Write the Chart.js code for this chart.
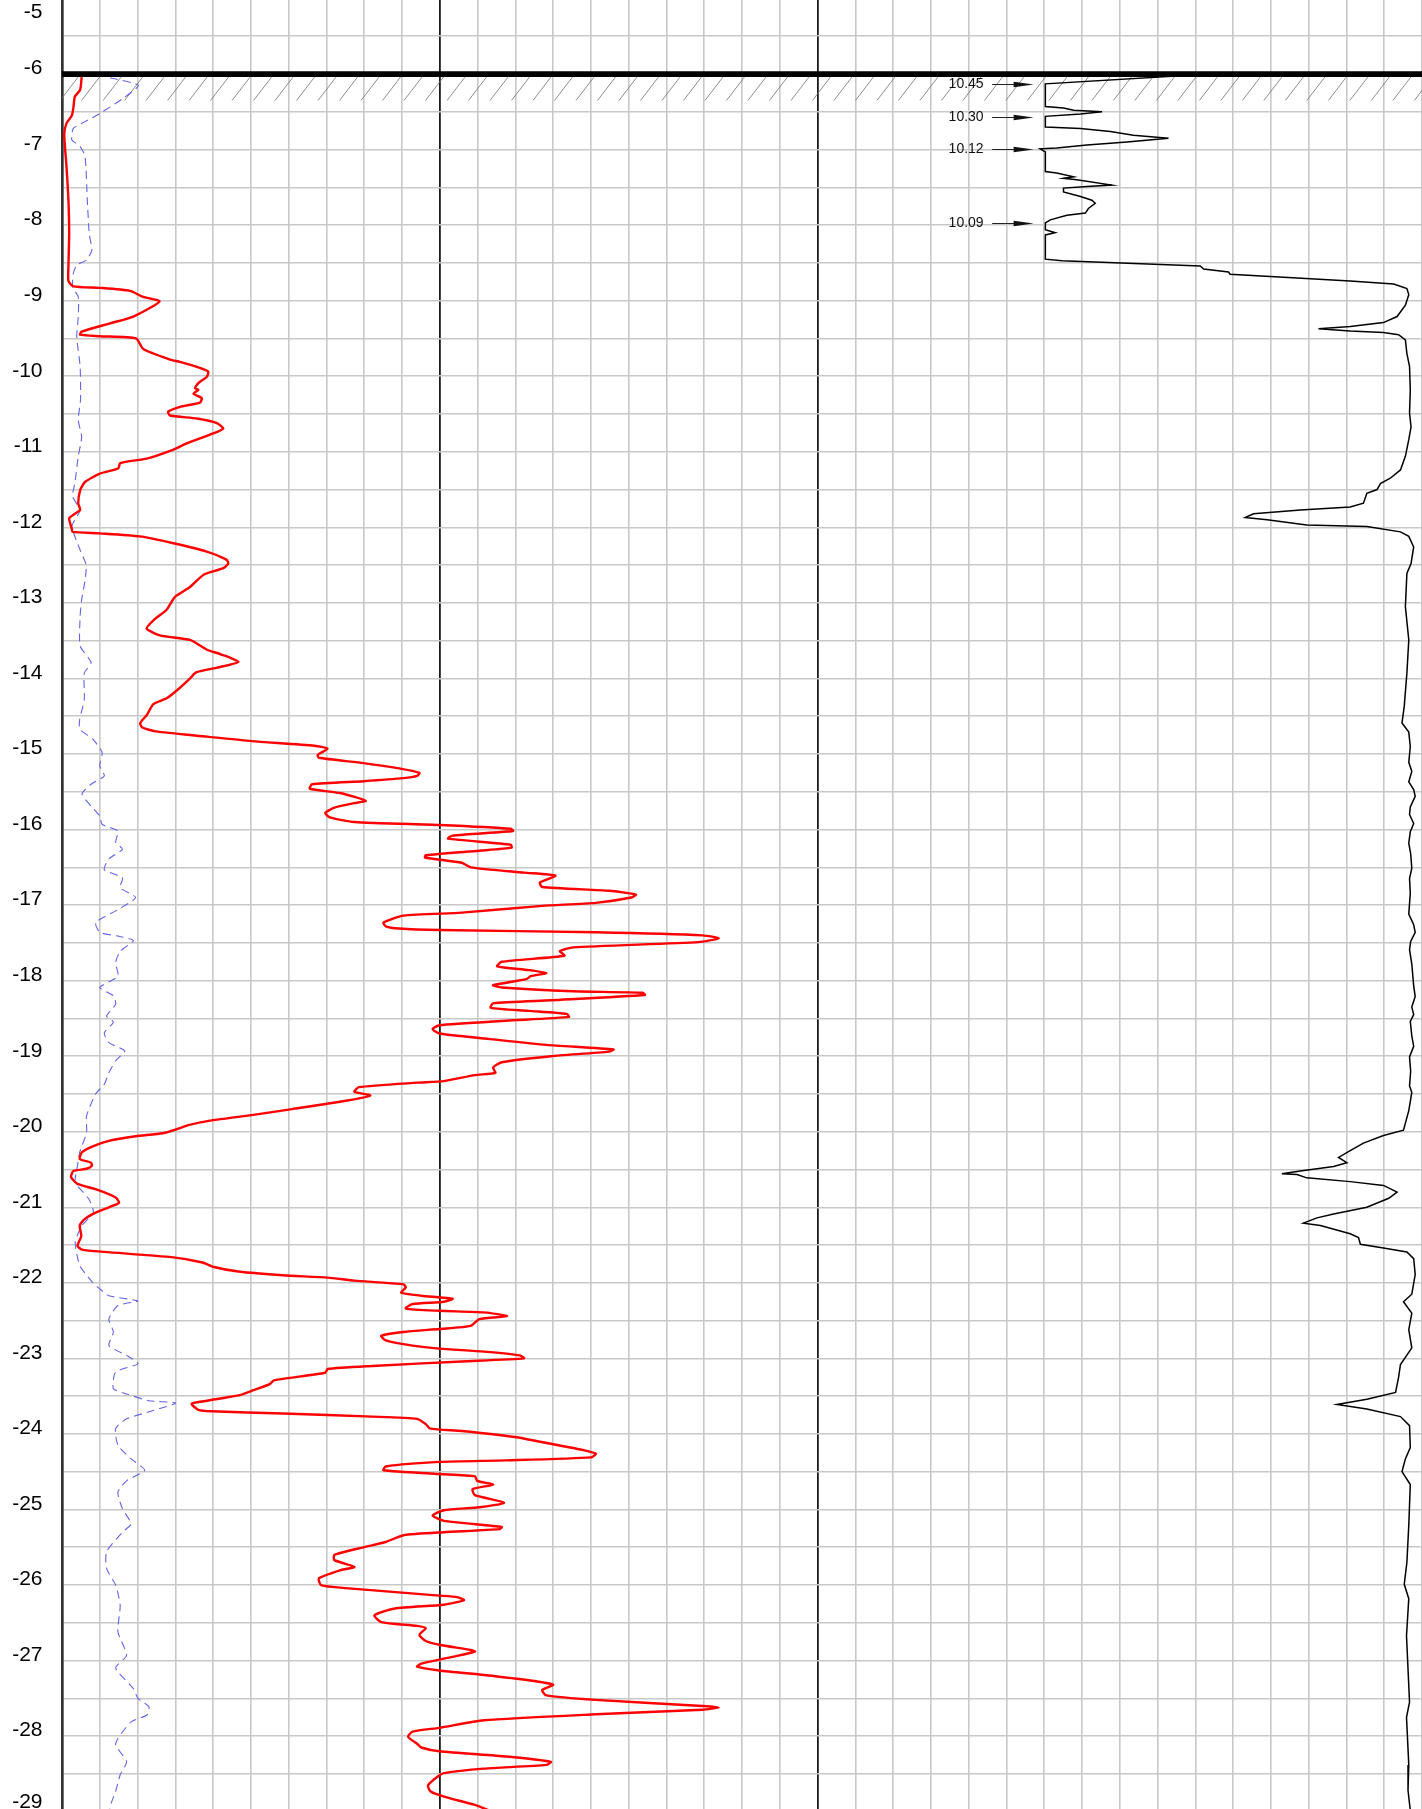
<!DOCTYPE html>
<html>
<head>
<meta charset="utf-8">
<script src="https://cdn.jsdelivr.net/npm/chart.js@4.4.0/dist/chart.umd.min.js"></script>
<style>
html,body{margin:0;padding:0;background:#fff;overflow:hidden}
canvas{display:block}
</style>
</head>
<body>
<canvas id="c" width="1422" height="1809"></canvas>
<script>
// ---------- data ----------
const depthTicks = [-5,-6,-7,-8,-9,-10,-11,-12,-13,-14,-15,-16,-17,-18,-19,-20,-21,-22,-23,-24,-25,-26,-27,-28,-29];
const groundLevel = -6.0;

// red curve (cone resistance) : value in grid units vs depth
const redX = [0.52,0.48,0.34,0.30,0.26,0.12,0.06,0.12,0.17,0.19,0.17,0.17,0.30,1.0,1.80,2.15,2.58,1.89,1.27,0.52,0.48,1.0,1.96,2.15,2.86,3.12,3.65,3.87,3.83,3.61,3.52,3.61,3.48,3.70,3.65,3.17,2.81,2.86,3.57,4.10,4.27,4.14,3.30,2.90,2.24,1.54,1.49,1.0,0.61,0.48,0.43,0.48,0.34,0.19,0.26,0.28,1.0,2.06,2.95,3.83,4.36,4.40,4.27,3.74,3.39,2.99,2.77,2.42,2.24,2.59,3.39,3.84,4.20,4.67,4.08,3.55,3.37,3.13,2.78,2.42,2.25,2.07,2.13,2.48,3.84,5.02,6.68,7.03,6.77,6.80,7.98,8.92,9.46,9.40,9.04,7.98,6.62,6.56,7.39,8.04,7.74,7.21,6.97,7.09,7.74,9.99,11.88,11.94,10.34,10.22,11.88,11.90,11.05,9.63,9.61,10.58,10.82,12.23,13.06,12.65,12.71,14.48,15.19,15.07,14.13,12.71,10.58,9.04,8.51,8.57,8.92,9.99,14.13,16.96,17.38,16.84,13.53,13.18,13.30,11.64,11.52,12.35,12.82,12.41,12.29,11.41,11.64,13.53,15.37,15.43,12.94,11.41,11.35,12.35,13.36,13.42,11.76,9.99,9.81,9.99,11.29,12.82,14.60,14.48,12.94,11.64,11.41,11.47,10.93,10.11,9.40,7.86,7.74,8.16,7.51,6.09,5.02,3.96,3.37,3.01,2.66,1.95,1.24,0.83,0.53,0.47,0.77,0.79,0.65,0.30,0.24,0.41,0.89,1.42,1.51,1.24,0.89,0.59,0.47,0.51,0.41,0.53,1.12,2.90,3.72,4.02,4.67,5.85,7.03,7.74,9.04,9.10,8.98,9.51,10.34,10.11,9.28,9.10,9.99,11.17,11.78,11.05,10.82,9.99,9.04,8.45,8.57,9.28,9.99,11.17,12.12,12.23,10.58,8.22,7.03,6.97,5.61,5.50,5.02,4.67,3.84,3.43,3.61,3.96,5.85,8.22,9.40,9.63,9.75,10.58,11.99,12.94,13.77,14.13,14.01,11.76,9.99,8.57,8.51,9.99,10.93,10.99,11.41,10.87,10.93,11.70,11.05,10.11,9.81,10.11,11.64,11.58,10.11,9.04,8.57,7.98,7.21,7.21,7.74,7.39,6.80,6.86,7.51,9.99,10.46,10.64,10.11,8.81,8.27,8.45,9.40,9.63,9.46,9.63,9.99,10.82,10.93,10.34,9.51,9.40,9.99,11.17,12.35,13.00,12.71,12.82,14.13,16.96,17.38,16.96,14.13,11.17,9.99,9.28,9.16,9.40,9.51,9.99,11.76,12.94,12.82,11.17,10.11,9.93,9.69,9.75,10.11,10.93,11.29];
const redDepth = [-6.04,-6.21,-6.30,-6.45,-6.55,-6.65,-6.80,-7.23,-7.67,-8.11,-8.55,-8.74,-8.81,-8.83,-8.87,-8.95,-9.01,-9.21,-9.30,-9.41,-9.45,-9.47,-9.50,-9.64,-9.78,-9.81,-9.89,-9.94,-10.01,-10.09,-10.16,-10.18,-10.23,-10.29,-10.35,-10.40,-10.47,-10.52,-10.56,-10.62,-10.69,-10.73,-10.89,-10.98,-11.09,-11.15,-11.22,-11.29,-11.40,-11.51,-11.68,-11.77,-11.82,-11.88,-12.02,-12.06,-12.08,-12.12,-12.21,-12.32,-12.43,-12.48,-12.54,-12.63,-12.79,-12.92,-13.09,-13.23,-13.34,-13.43,-13.49,-13.62,-13.68,-13.78,-13.86,-13.92,-14.01,-14.12,-14.26,-14.34,-14.48,-14.59,-14.65,-14.70,-14.77,-14.83,-14.89,-14.93,-15.01,-15.05,-15.12,-15.19,-15.25,-15.29,-15.32,-15.36,-15.40,-15.46,-15.52,-15.62,-15.65,-15.71,-15.78,-15.84,-15.90,-15.94,-15.99,-16.02,-16.08,-16.12,-16.20,-16.24,-16.28,-16.34,-16.37,-16.44,-16.50,-16.57,-16.61,-16.70,-16.76,-16.81,-16.86,-16.90,-16.97,-17.01,-17.10,-17.14,-17.23,-17.28,-17.31,-17.33,-17.36,-17.40,-17.44,-17.49,-17.56,-17.61,-17.67,-17.75,-17.81,-17.86,-17.90,-17.94,-17.98,-18.06,-18.09,-18.14,-18.16,-18.19,-18.26,-18.30,-18.36,-18.40,-18.44,-18.48,-18.53,-18.59,-18.64,-18.70,-18.77,-18.85,-18.91,-18.94,-19.00,-19.08,-19.15,-19.22,-19.25,-19.33,-19.35,-19.41,-19.47,-19.52,-19.59,-19.70,-19.78,-19.85,-19.91,-19.97,-20.02,-20.06,-20.12,-20.19,-20.27,-20.36,-20.41,-20.45,-20.49,-20.52,-20.60,-20.69,-20.76,-20.87,-20.94,-21.00,-21.07,-21.16,-21.24,-21.38,-21.51,-21.56,-21.59,-21.66,-21.73,-21.79,-21.85,-21.90,-21.93,-21.97,-22.02,-22.06,-22.13,-22.17,-22.21,-22.25,-22.28,-22.34,-22.37,-22.39,-22.44,-22.48,-22.57,-22.61,-22.65,-22.70,-22.76,-22.83,-22.87,-22.91,-22.96,-23.00,-23.04,-23.10,-23.14,-23.19,-23.29,-23.34,-23.43,-23.49,-23.56,-23.60,-23.68,-23.70,-23.73,-23.77,-23.80,-23.87,-23.93,-23.96,-24.04,-24.13,-24.21,-24.26,-24.31,-24.35,-24.37,-24.43,-24.48,-24.53,-24.56,-24.62,-24.67,-24.73,-24.81,-24.91,-24.97,-25.01,-25.08,-25.15,-25.23,-25.26,-25.30,-25.34,-25.43,-25.50,-25.60,-25.67,-25.76,-25.80,-25.91,-26.00,-26.04,-26.14,-26.16,-26.20,-26.26,-26.31,-26.40,-26.49,-26.54,-26.57,-26.66,-26.74,-26.79,-26.86,-26.88,-26.95,-27.04,-27.08,-27.13,-27.19,-27.26,-27.32,-27.39,-27.46,-27.52,-27.60,-27.62,-27.65,-27.71,-27.79,-27.89,-27.94,-28.01,-28.10,-28.15,-28.20,-28.27,-28.34,-28.38,-28.43,-28.49,-28.54,-28.65,-28.73,-28.80,-28.91,-28.98];

// blue dashed curve (friction) : value in grid units vs depth
const blueX = [1.27,2.02,1.62,1.01,0.61,0.30,0.26,0.48,0.61,0.67,0.72,0.79,0.65,0.39,0.30,0.28,0.43,0.43,0.39,0.48,0.49,0.43,0.52,0.43,0.34,0.28,0.48,0.39,0.26,0.48,0.64,0.61,0.52,0.48,0.48,0.77,0.59,0.59,0.47,0.47,0.83,1.06,1.00,1.12,0.77,0.53,0.77,1.00,1.06,1.48,1.42,1.60,1.24,1.12,1.60,1.54,1.95,1.48,0.89,1.00,1.48,1.89,1.54,1.42,1.48,1.00,1.36,1.42,1.18,1.36,1.12,1.24,1.66,1.42,1.24,1.12,0.89,0.65,0.65,0.47,0.41,0.35,0.71,0.83,0.53,0.35,0.47,0.77,1.00,1.24,2.01,1.48,1.24,1.36,1.24,1.71,2.01,1.42,1.36,1.71,2.30,3.01,2.42,1.71,1.42,1.48,1.83,2.19,1.71,1.48,1.60,1.83,1.60,1.18,1.18,1.42,1.54,1.48,1.71,1.42,1.89,2.01,2.30,2.25,1.83,1.48,1.42,1.71,1.54,1.42,1.30,1.25];
const blueDepth = [-6.05,-6.15,-6.32,-6.52,-6.63,-6.72,-6.87,-6.96,-7.09,-7.67,-8.11,-8.33,-8.46,-8.53,-8.64,-8.82,-8.95,-9.21,-9.48,-9.87,-10.31,-10.58,-10.80,-11.06,-11.42,-11.59,-11.77,-11.86,-11.99,-12.30,-12.50,-12.70,-12.96,-13.18,-13.57,-13.79,-13.93,-14.28,-14.54,-14.67,-14.81,-14.98,-15.16,-15.29,-15.40,-15.53,-15.69,-15.82,-15.93,-16.02,-16.17,-16.26,-16.39,-16.53,-16.64,-16.77,-16.90,-17.06,-17.23,-17.36,-17.41,-17.47,-17.61,-17.76,-17.94,-18.09,-18.20,-18.31,-18.47,-18.55,-18.69,-18.82,-18.93,-19.06,-19.22,-19.37,-19.50,-19.79,-20.01,-20.27,-20.45,-20.67,-20.89,-21.07,-21.24,-21.46,-21.77,-21.97,-22.08,-22.17,-22.24,-22.30,-22.48,-22.65,-22.83,-22.96,-23.07,-23.18,-23.40,-23.47,-23.56,-23.59,-23.69,-23.80,-23.93,-24.15,-24.33,-24.48,-24.62,-24.77,-24.99,-25.19,-25.30,-25.56,-25.78,-26.00,-26.27,-26.62,-26.93,-27.10,-27.37,-27.50,-27.61,-27.72,-27.81,-28.03,-28.12,-28.34,-28.51,-28.73,-28.89,-29.00];

// black curve (right track) : value in grid units vs depth
const blackX = [30.05,26.03,26.03,26.51,26.78,27.53,26.96,26.03,26.03,26.96,27.75,28.36,29.29,28.19,27.13,26.33,25.89,26.03,26.03,26.33,26.78,26.51,26.86,27.79,27.13,26.51,26.51,26.96,27.26,27.35,27.17,27.09,26.60,26.16,26.03,26.03,26.29,26.03,26.03,26.47,30.13,30.22,30.88,30.92,32.34,34.10,35.25,35.60,35.65,35.56,35.34,34.98,34.10,33.26,34.10,34.98,35.38,35.56,35.60,35.67,35.69,35.67,35.71,35.65,35.56,35.43,35.16,34.90,34.81,34.54,34.45,34.10,32.78,31.54,31.32,31.90,32.95,34.54,35.43,35.65,35.78,35.71,35.60,35.56,35.65,35.60,35.53,35.47,35.65,35.69,35.65,35.73,35.65,35.78,35.82,35.69,35.67,35.78,35.69,35.65,35.70,35.73,35.67,35.69,35.65,35.78,35.82,35.70,35.67,35.73,35.78,35.82,35.73,35.78,35.69,35.73,35.78,35.67,35.70,35.67,35.73,35.65,35.51,34.98,34.45,34.10,33.79,34.01,33.66,32.78,32.29,32.69,32.95,34.10,34.98,35.34,35.12,34.54,33.66,33.22,32.86,33.31,34.10,34.32,34.37,34.98,35.60,35.78,35.82,35.73,35.51,35.73,35.65,35.73,35.43,35.38,35.30,34.54,33.75,34.54,35.43,35.67,35.69,35.56,35.47,35.69,35.65,35.60,35.53,35.65,35.59,35.67,35.59,35.65,35.63,35.69];
const blackDepth = [-6.01,-6.13,-6.43,-6.45,-6.48,-6.50,-6.53,-6.56,-6.70,-6.72,-6.76,-6.81,-6.85,-6.90,-6.94,-6.98,-6.99,-7.03,-7.29,-7.31,-7.36,-7.38,-7.40,-7.47,-7.49,-7.51,-7.56,-7.62,-7.67,-7.71,-7.78,-7.84,-7.87,-7.93,-7.97,-8.06,-8.10,-8.13,-8.45,-8.47,-8.54,-8.58,-8.62,-8.65,-8.69,-8.74,-8.78,-8.84,-8.92,-9.06,-9.21,-9.29,-9.34,-9.37,-9.40,-9.42,-9.45,-9.52,-9.70,-9.87,-10.18,-10.49,-10.67,-10.84,-11.06,-11.24,-11.35,-11.42,-11.50,-11.55,-11.68,-11.73,-11.77,-11.82,-11.87,-11.90,-11.97,-11.99,-12.06,-12.12,-12.26,-12.48,-12.61,-13.05,-13.49,-13.93,-14.37,-14.59,-14.71,-14.90,-15.11,-15.23,-15.37,-15.47,-15.56,-15.70,-15.80,-15.92,-16.03,-16.18,-16.32,-16.51,-16.65,-16.84,-17.12,-17.26,-17.36,-17.48,-17.59,-17.78,-18.07,-18.21,-18.35,-18.45,-18.54,-18.73,-18.87,-19.01,-19.20,-19.39,-19.48,-19.72,-19.98,-20.05,-20.15,-20.25,-20.34,-20.41,-20.46,-20.52,-20.555,-20.565,-20.61,-20.66,-20.71,-20.80,-20.88,-21.00,-21.09,-21.14,-21.21,-21.24,-21.35,-21.40,-21.49,-21.54,-21.59,-21.68,-21.89,-22.15,-22.25,-22.40,-22.62,-22.86,-23.08,-23.25,-23.45,-23.54,-23.61,-23.67,-23.77,-23.89,-24.18,-24.33,-24.50,-24.67,-25.21,-25.70,-25.99,-26.18,-26.67,-27.55,-27.75,-28.38,-28.72,-28.98];

// level markers on the right track
const markerLabels = ['10.45','10.30','10.12','10.09'];
const markerDepths = [-6.135,-6.57,-6.99,-7.97];
const markerTipX = 25.72;

// ---------- helpers ----------
const pts = (xs, ds) => xs.map((x, i) => ({x: x, y: ds[i]}));

const FONT = '"Liberation Sans", Arial, Helvetica, sans-serif';

const hatchPlugin = {
  id: 'hatch',
  beforeDatasetsDraw(chart) {
    const {ctx, chartArea: a} = chart;
    const xs = chart.scales.x, ys = chart.scales.y;
    const yTop = ys.getPixelForValue(groundLevel) + 3;
    const yBot = ys.getPixelForValue(groundLevel - 0.35);
    const step = xs.getPixelForValue(0.569) - xs.getPixelForValue(0);
    const dx = 18;
    ctx.save();
    ctx.beginPath();
    ctx.rect(a.left, a.top, a.right - a.left, a.bottom - a.top);
    ctx.clip();
    ctx.strokeStyle = 'rgba(120,120,120,0.85)';
    ctx.lineWidth = 1;
    ctx.beginPath();
    for (let x = xs.getPixelForValue(-0.05); x < a.right + step; x += step) {
      ctx.moveTo(x, yBot);
      ctx.lineTo(x + dx, yTop);
    }
    ctx.stroke();
    ctx.restore();
  }
};

const markerPlugin = {
  id: 'markers',
  afterDatasetsDraw(chart) {
    const {ctx} = chart;
    const xs = chart.scales.x, ys = chart.scales.y;
    const tip = xs.getPixelForValue(markerTipX);
    ctx.save();
    ctx.strokeStyle = '#222';
    ctx.fillStyle = '#111';
    ctx.lineWidth = 1;
    ctx.font = '14px ' + FONT;
    ctx.textAlign = 'right';
    ctx.textBaseline = 'middle';
    markerLabels.forEach((lab, i) => {
      const py = Math.round(ys.getPixelForValue(markerDepths[i])) + 0.5;
      ctx.beginPath();
      ctx.moveTo(tip - 41.5, py);
      ctx.lineTo(tip - 18, py);
      ctx.stroke();
      ctx.beginPath();
      ctx.moveTo(tip - 20, py - 2.8);
      ctx.lineTo(tip, py);
      ctx.lineTo(tip - 20, py + 2.8);
      ctx.closePath();
      ctx.fill();
      ctx.fillText(lab, tip - 50, py - 0.5);
    });
    ctx.restore();
  }
};

const yLabelPlugin = {
  id: 'yLabels',
  afterDraw(chart) {
    const {ctx} = chart;
    const ys = chart.scales.y;
    ctx.save();
    ctx.font = '21px ' + FONT;
    ctx.fillStyle = '#000';
    ctx.textAlign = 'right';
    ctx.textBaseline = 'middle';
    depthTicks.forEach(v => {
      let py = ys.getPixelForValue(v) - 5.5;
      py = Math.max(12, Math.min(chart.height - 7, py));
      ctx.fillText(String(v), 42.5, py);
    });
    ctx.restore();
  }
};

new Chart(document.getElementById('c'), {
  type: 'scatter',
  data: {
    datasets: [
      {
        label: 'ground',
        data: [{x: 0, y: groundLevel}, {x: 36, y: groundLevel}],
        showLine: true, borderColor: '#000', borderWidth: 5.7,
        pointRadius: 0, tension: 0, order: 0
      },
      {
        label: 'qc',
        data: pts(redX, redDepth),
        showLine: true, borderColor: '#f00', borderWidth: 2.4,
        pointRadius: 0, tension: 0.2, order: 1
      },
      {
        label: 'fs',
        data: pts(blueX, blueDepth),
        showLine: true, borderColor: 'rgb(100,100,230)', borderWidth: 1.1,
        borderDash: [8, 5], pointRadius: 0, tension: 0.2, order: 2
      },
      {
        label: 'right',
        data: pts(blackX, blackDepth),
        showLine: true, borderColor: '#000', borderWidth: 1.5,
        pointRadius: 0, tension: 0, order: 3
      }
    ]
  },
  options: {
    responsive: false,
    animation: false,
    devicePixelRatio: 1,
    events: [],
    layout: {padding: {left: 62, top: 0, right: 0, bottom: 0}},
    plugins: {legend: {display: false}, tooltip: {enabled: false}},
    scales: {
      x: {
        type: 'linear', min: 0, max: 36,
        ticks: {display: false, stepSize: 1},
        grid: {
          drawTicks: false,
          color: c => (c.tick && (c.tick.value === 10 || c.tick.value === 20)) ? '#1a1a1a' : 'rgb(200,200,200)',
          lineWidth: c => (c.tick && (c.tick.value === 10 || c.tick.value === 20)) ? 1.8 : 1.6
        },
        border: {display: false}
      },
      y: {
        type: 'linear', min: -28.964, max: -5.02,
        ticks: {display: false, stepSize: 0.5, includeBounds: false},
        grid: {drawTicks: false, color: 'rgb(200,200,200)', lineWidth: 1.6},
        border: {display: true, color: '#333', width: 2.7}
      }
    }
  },
  plugins: [hatchPlugin, markerPlugin, yLabelPlugin]
});
</script>
</body>
</html>
